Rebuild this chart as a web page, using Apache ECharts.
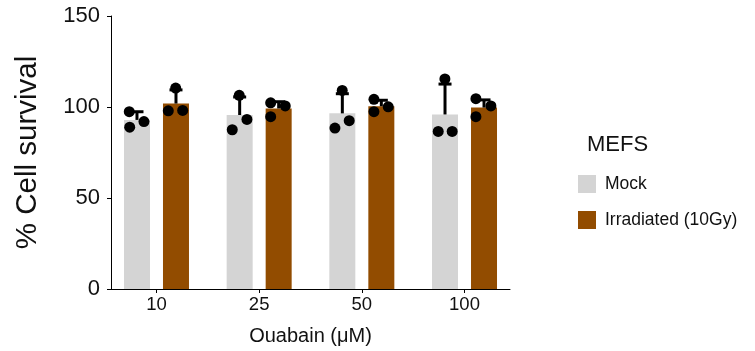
<!DOCTYPE html>
<html>
<head>
<meta charset="utf-8">
<script src="https://cdn.jsdelivr.net/npm/echarts@6/dist/echarts.min.js"></script>
<style>html,body{margin:0;padding:0;background:#fff}#c{width:755px;height:351px}</style>
</head>
<body>
<div id="c"></div>
<script>
var categories = ['10', '25', '50', '100'];
var yTicks = [0, 50, 100, 150];
var mockMean = [92.9, 95.6, 96.5, 95.9];
var mockErr = [4.5, 9.9, 10.8, 16.7];
var irrMean = [101.9, 99.2, 100.4, 99.7];
var irrErr = [7.5, 3.7, 3.3, 4.2];
var mockPoints = [
  [-0.265, 97.4], [-0.261, 88.9], [-0.122, 92.0],
  [0.738, 87.5], [0.806, 106.4], [0.881, 93.2],
  [1.738, 88.4], [1.809, 109.1], [1.877, 92.5],
  [2.744, 86.6], [2.809, 115.4], [2.880, 86.6]
];
var irrPoints = [
  [0.115, 97.9], [0.255, 98.1], [0.187, 110.4],
  [1.112, 102.3], [1.254, 100.6], [1.112, 94.7],
  [2.118, 104.2], [2.257, 100.1], [2.118, 97.4],
  [3.111, 104.6], [3.257, 100.6], [3.111, 94.7]
];

var FONT = 'Liberation Sans, Arial, sans-serif';
var BAR_W = 26, BAR_GAP = 13;
var HALF_OFF = (BAR_W + BAR_GAP) / 2;

function barData(means) { return means.map(function (v, i) { return [i, v]; }); }
function errData(means, errs) { return means.map(function (v, i) { return [i, v, errs[i]]; }); }
function errRender(sign) {
  return function (params, api) {
    var x = api.value(0), m = api.value(1), e = api.value(2);
    var p0 = api.coord([x, m]);
    var p1 = api.coord([x, m + e]);
    var cx = p0[0] + sign * HALF_OFF;
    var half = 6.5;
    return {
      type: 'group',
      children: [
        { type: 'line', shape: { x1: cx, y1: p0[1], x2: cx, y2: p1[1] }, style: { stroke: '#000', lineWidth: 3 } },
        { type: 'line', shape: { x1: cx - half, y1: p1[1], x2: cx + half, y2: p1[1] }, style: { stroke: '#000', lineWidth: 3 } }
      ]
    };
  };
}

var chart = echarts.init(document.getElementById('c'));
chart.setOption({
  animation: false,
  textStyle: { fontFamily: FONT },
  title: {
    text: 'MEFS', left: 587, top: 134, padding: 0,
    textStyle: { fontFamily: FONT, fontSize: 22, fontWeight: 'normal', color: '#111' }
  },
  legend: {
    data: ['Mock', 'Irradiated (10Gy)'],
    orient: 'vertical', left: 578, top: 175, padding: 0,
    itemWidth: 18, itemHeight: 18, itemGap: 18, icon: 'rect',
    textStyle: { fontFamily: FONT, fontSize: 17.5, color: '#111', padding: [0, 0, 0, 4] }
  },
  grid: { left: 111, right: 245, top: 16, bottom: 57.7, containLabel: false },
  xAxis: {
    type: 'value', min: -0.443, max: 3.443,
    name: 'Ouabain (\u03bcM)', nameLocation: 'middle', nameGap: 37,
    nameTextStyle: { fontFamily: FONT, fontSize: 20, color: '#111' },
    splitLine: { show: false },
    axisLine: { show: true, onZero: false, lineStyle: { color: '#000', width: 1 } },
    axisTick: { show: true, length: 4, customValues: [0, 1, 2, 3], lineStyle: { color: '#000' } },
    axisLabel: {
      customValues: [0, 1, 2, 3], margin: 6,
      fontFamily: FONT, fontSize: 18.5, color: '#111',
      formatter: function (v) { return categories[Math.round(v)]; }
    }
  },
  yAxis: {
    type: 'value', min: 0, max: 150, interval: 50,
    name: '% Cell survival', nameLocation: 'middle', nameGap: 68,
    nameTextStyle: { fontFamily: FONT, fontSize: 29.5, color: '#111' },
    splitLine: { show: false },
    axisLine: { show: true, onZero: false, lineStyle: { color: '#000', width: 1 } },
    axisTick: { show: true, length: 4, lineStyle: { color: '#000' } },
    axisLabel: {
      margin: 11, fontFamily: FONT, fontSize: 22, color: '#111',
      formatter: function (v) { return yTicks.indexOf(v) >= 0 ? String(v) : ''; }
    }
  },
  series: [
    { name: 'Mock', type: 'bar', data: barData(mockMean), barWidth: BAR_W, barGap: '50%', itemStyle: { color: '#d4d4d4' }, z: 2 },
    { name: 'Irradiated (10Gy)', type: 'bar', data: barData(irrMean), barWidth: BAR_W, barGap: '50%', itemStyle: { color: '#924c00' }, z: 2 },
    { name: 'mockErr', type: 'custom', renderItem: errRender(-1), data: errData(mockMean, mockErr), z: 3, silent: true },
    { name: 'irrErr', type: 'custom', renderItem: errRender(1), data: errData(irrMean, irrErr), z: 3, silent: true },
    { name: 'mockPts', type: 'scatter', data: mockPoints, symbolSize: 11, itemStyle: { color: '#000', opacity: 1 }, z: 4 },
    { name: 'irrPts', type: 'scatter', data: irrPoints, symbolSize: 11, itemStyle: { color: '#000', opacity: 1 }, z: 4 }
  ]
});
</script>
</body>
</html>
